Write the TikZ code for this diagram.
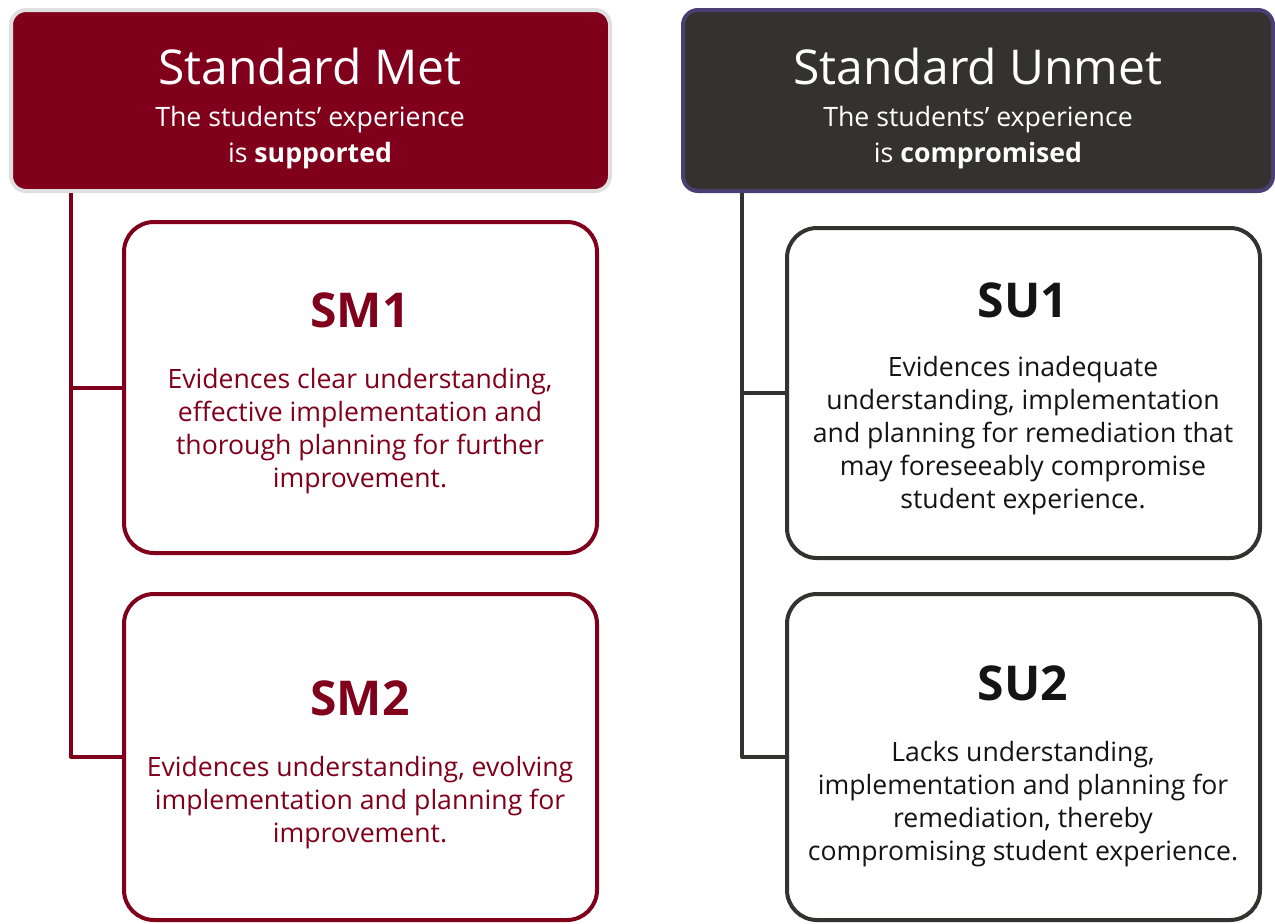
\documentclass[tikz,border=0pt]{standalone}
\usepackage{fontspec}
\setmainfont{Open Sans}
\definecolor{smred}{RGB}{128,0,28}
\definecolor{hgray}{RGB}{224,224,224}
\definecolor{upurple}{RGB}{74,62,115}
\definecolor{udark}{RGB}{51,50,46}
\definecolor{utext}{RGB}{20,20,20}
\begin{document}
\begin{tikzpicture}[x=1pt,y=-1pt,
  hdr/.style={rectangle,rounded corners=15pt,line width=4pt,minimum height=181pt,inner sep=0pt},
  card/.style={rectangle,rounded corners=30pt,line width=4pt,fill=white,minimum width=473pt,inner sep=0pt},
  htitle/.style={text=white,font=\fontsize{48}{55}\selectfont,inner sep=0pt},
  hsub/.style={text=white,font=\fontsize{26.7}{36}\selectfont,align=center,inner sep=0pt},
  ctitle/.style={font=\bfseries\fontsize{48}{55}\selectfont,inner sep=0pt},
  cbody/.style={font=\fontsize{26.6}{33}\selectfont,align=center,inner sep=0pt},
  conn/.style={line width=4pt,line join=round}
]
\useasboundingbox (0,0) rectangle (1275,924);
% headers
\node[hdr,fill=smred,draw=hgray,minimum width=599pt] (hm) at (310.5,100.5) {};
\node[hdr,fill=udark,draw=upurple,minimum width=590pt] (hu) at (978,100.5) {};
\node[htitle] (hmt) at (310,66) {Standard Met};
\node[hsub] (hms) at (310,138) {The students’ experience\\is \textbf{supported}};
\node[htitle] (hut) at (978,66) {Standard Unmet};
\node[hsub] (hus) at (978,138) {The students’ experience\\is \textbf{compromised}};
% cards
\node[card,draw=smred,minimum height=331pt] (sm1) at (360.5,387.5) {};
\node[card,draw=smred,minimum height=326pt] (sm2) at (360.5,757) {};
\node[card,draw=udark,minimum height=330pt] (su1) at (1023.5,393) {};
\node[card,draw=udark,minimum height=326pt] (su2) at (1023.5,757) {};
% connectors
\coordinate (lt) at (71,193);
\coordinate (rt) at (742,193);
\draw[conn,smred] (lt) |- (sm2.west);
\draw[conn,smred] (lt |- sm1.west) -- (sm1.west);
\draw[conn,udark] (rt) |- (su2.west);
\draw[conn,udark] (rt |- su1.west) -- (su1.west);
% card texts
\node[ctitle,text=smred] (sm1t) at (360,310) {SM1};
\node[cbody,text=smred] (sm1b) at (360,431) {Evidences clear understanding,\\effective implementation and\\thorough planning for further\\improvement.};
\node[ctitle,text=smred] (sm2t) at (360,698) {SM2};
\node[cbody,text=smred] (sm2b) at (360,803) {Evidences understanding, evolving\\implementation and planning for\\improvement.};
\node[ctitle,text=utext] (su1t) at (1023,300) {SU1};
\node[cbody,text=utext] (su1b) at (1023,436) {Evidences inadequate\\understanding, implementation\\and planning for remediation that\\may foreseeably compromise\\student experience.};
\node[ctitle,text=utext] (su2t) at (1023,683) {SU2};
\node[cbody,text=utext] (su2b) at (1023,804) {Lacks understanding,\\implementation and planning for\\remediation, thereby\\compromising student experience.};
\end{tikzpicture}
\end{document}
